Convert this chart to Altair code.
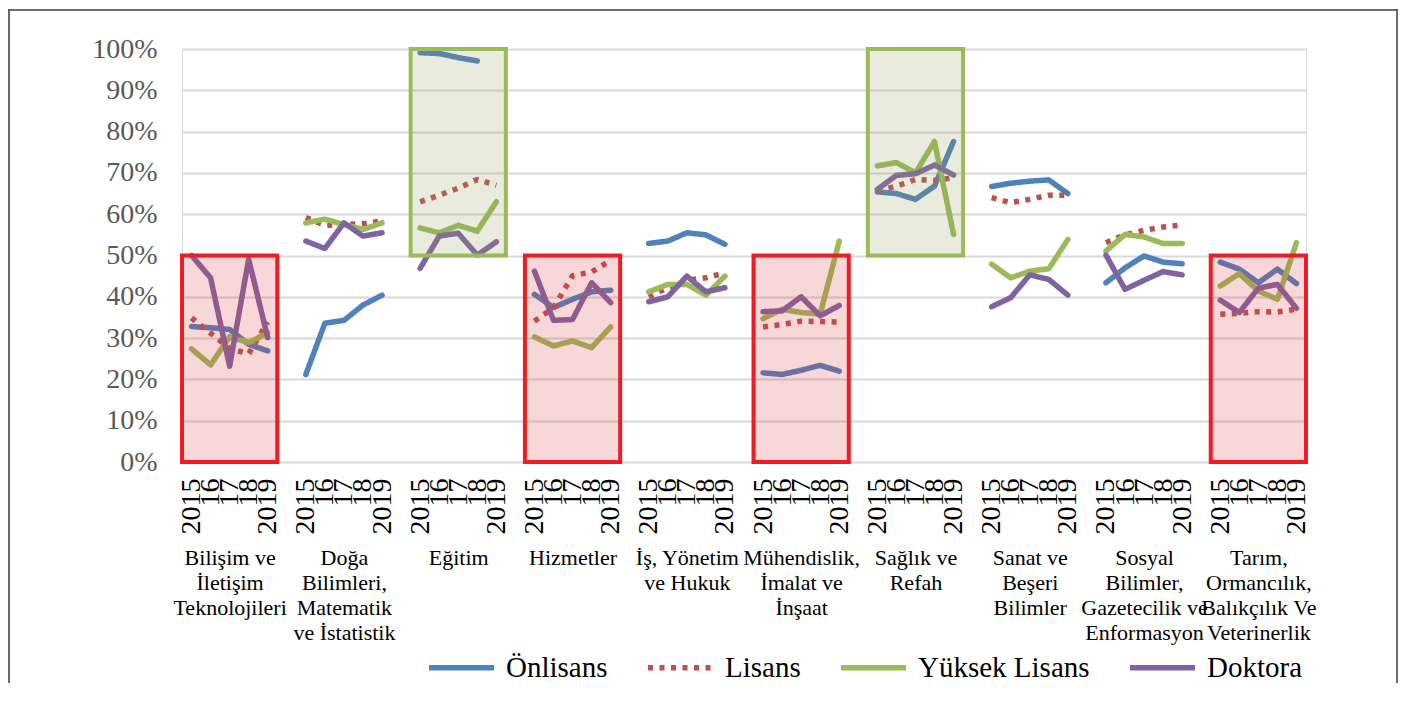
import altair as alt
import pandas as pd

# ---------------- data ----------------
group_lines = [
    ["Bilişim ve", "İletişim", "Teknolojileri"],
    ["Doğa", "Bilimleri,", "Matematik", "ve İstatistik"],
    ["Eğitim"],
    ["Hizmetler"],
    ["İş, Yönetim", "ve Hukuk"],
    ["Mühendislik,", "İmalat ve", "İnşaat"],
    ["Sağlık ve", "Refah"],
    ["Sanat ve", "Beşeri", "Bilimler"],
    ["Sosyal", "Bilimler,", "Gazetecilik ve", "Enformasyon"],
    ["Tarım,", "Ormancılık,", "Balıkçılık Ve", "Veterinerlik"],
]
years = [2015, 2016, 2017, 2018, 2019]
year_labels = ["2015", "16", "17", "18", "2019"]
series = ["Önlisans", "Lisans", "Yüksek Lisans", "Doktora"]
colors = ["#4f81bd", "#c0504d", "#9bbb59", "#8064a2"]

# percent values, 5 years per field group, groups in order above
onlisans = [
    32.8, 32.5, 32.1, 28.5, 26.9,
    21.2, 33.6, 34.3, 38.0, 40.4,
    99.1, 98.9, 97.9, 97.1, None,
    40.6, 37.4, 39.4, 41.2, 41.6,
    52.9, 53.5, 55.5, 55.0, 52.7,
    21.6, 21.2, 22.2, 23.4, 22.0,
    65.4, 65.0, 63.6, 66.8, 77.6,
    66.7, 67.5, 68.0, 68.3, 65.0,
    43.4, 47.0, 49.9, 48.4, 48.0,
    48.4, 46.7, 43.4, 46.7, 43.2,
]
lisans = [
    34.9, 31.2, 27.5, 26.2, 33.9,
    59.2, 57.3, 57.5, 57.7, 58.4,
    63.0, 64.6, 66.3, 68.4, 67.0,
    34.1, 37.3, 45.1, 46.0, 48.8,
    40.0, 42.2, 44.0, 44.6, 45.8,
    32.7, 33.3, 34.1, 34.0, 33.9,
    65.6, 66.8, 68.4, 68.2, 68.8,
    64.0, 62.8, 63.6, 64.6, 64.6,
    53.1, 55.0, 56.1, 56.9, 57.4,
    35.8, 36.0, 36.4, 36.3, 37.0,
]
yuksek_lisans = [
    27.4, 23.5, 30.3, 28.9, 31.3,
    57.9, 58.8, 57.5, 56.3, 57.9,
    56.7, 55.5, 57.3, 55.9, 63.0,
    30.3, 28.1, 29.3, 27.7, 32.7,
    41.2, 43.0, 43.0, 40.4, 45.0,
    34.7, 37.0, 36.2, 35.8, 53.5,
    71.7, 72.5, 70.0, 77.6, 55.1,
    47.9, 44.6, 46.2, 46.8, 53.9,
    51.1, 55.1, 54.5, 52.9, 52.9,
    42.6, 45.6, 41.4, 39.4, 53.1,
]
doktora = [
    50.0, 44.6, 23.2, 49.1, 30.1,
    53.5, 51.7, 57.9, 54.7, 55.5,
    46.9, 54.7, 55.4, 50.1, 53.3,
    46.2, 34.3, 34.5, 43.4, 38.6,
    38.8, 40.0, 45.0, 41.2, 42.2,
    36.4, 36.6, 40.0, 35.4, 37.9,
    66.0, 69.4, 69.8, 71.9, 69.5,
    37.6, 39.8, 45.3, 44.2, 40.4,
    50.1, 41.8, 44.0, 46.1, 45.3,
    39.2, 36.2, 42.1, 43.0, 37.2,
]
red_box_groups = [0, 3, 5, 9]
green_box_groups = [2, 6]

# ---------------- tables ----------------
n_groups = len(group_lines)
slot = len(years) + 1  # one empty category between groups
n_slots = n_groups * slot - 1

rows = []
for s_name, vals in zip(series, [onlisans, lisans, yuksek_lisans, doktora]):
    for g in range(n_groups):
        for j, yr in enumerate(years):
            v = vals[g * len(years) + j]
            rows.append({
                "series": s_name,
                "group": g,
                "year": yr,
                "pos": g * slot + j + 0.5,
                "value": None if v is None else v / 100.0,
            })
df = pd.DataFrame(rows)

red_df = pd.DataFrame({
    "x0": [g * slot for g in red_box_groups],
    "x1": [g * slot + len(years) for g in red_box_groups],
    "y0": [0.0] * len(red_box_groups),
    "y1": [0.5] * len(red_box_groups),
})
green_df = pd.DataFrame({
    "x0": [g * slot for g in green_box_groups],
    "x1": [g * slot + len(years) for g in green_box_groups],
    "y0": [0.5] * len(green_box_groups),
    "y1": [1.0] * len(green_box_groups),
})

FONT = "Liberation Serif"
x_scale = alt.Scale(domain=[0, n_slots], nice=False, zero=False)
y_scale = alt.Scale(domain=[0, 1], nice=False)

year_expr = "[" + ",".join(f"'{t}'" for t in year_labels) + "][floor(datum.value) % " + str(slot) + "]"
group_expr = ("split([" + ",".join("'" + "|".join(l) + "'" for l in group_lines)
              + "][floor(datum.value / " + str(slot) + ")], '|')")

legend = alt.Legend(
    title=None, orient="none", legendX=244, legendY=583, direction="horizontal",
    symbolType="stroke", symbolSize=4225, symbolStrokeWidth=5.5,
    labelFont=FONT, labelFontSize=29, labelColor="black", labelOffset=9, labelLimit=400,
    columnPadding=29,
)

color_enc = alt.Color("series:N", scale=alt.Scale(domain=series, range=colors), legend=legend)
dash_enc = alt.StrokeDash("series:N", scale=alt.Scale(domain=series,
                          range=[[1, 0], [5, 6.5], [1, 0], [1, 0]]), legend=legend)

x_year = alt.X("pos:Q", scale=x_scale, axis=alt.Axis(
    orient="bottom", title=None,
    values=[g * slot + j + 0.5 for g in range(n_groups) for j in range(len(years))],
    labelExpr=year_expr, labelAngle=270, labelFont=FONT, labelFontSize=28, labelColor="black",
    labelPadding=16, labelOverlap=False, labelFlush=False, labelBound=False,
    ticks=False, domain=False, grid=False))
y_val = alt.Y("value:Q", scale=y_scale, axis=alt.Axis(
    title=None, values=[i / 10 for i in range(11)], format=".0%",
    labelFont=FONT, labelFontSize=28, labelColor="#595959", labelPadding=25,
    domain=False, ticks=False, grid=True, gridColor="#d9d9d9", gridWidth=2))

base = alt.Chart(df)
line_blue = base.transform_filter(alt.datum.series == series[0]).mark_line(
    strokeWidth=5.5, strokeCap="round", strokeJoin="round").encode(
    x=x_year, y=y_val, color=color_enc, strokeDash=dash_enc, detail="group:N")
line_red = base.transform_filter(alt.datum.series == series[1]).mark_line(
    strokeWidth=5.5, strokeCap="butt", strokeJoin="round").encode(
    x=alt.X("pos:Q", scale=x_scale, axis=None), y=alt.Y("value:Q", scale=y_scale, axis=None),
    color=color_enc, strokeDash=dash_enc, detail="group:N")
line_rest = base.transform_filter(
    (alt.datum.series == series[2]) | (alt.datum.series == series[3])).mark_line(
    strokeWidth=5.5, strokeCap="round", strokeJoin="round").encode(
    x=alt.X("pos:Q", scale=x_scale, axis=None), y=alt.Y("value:Q", scale=y_scale, axis=None),
    color=color_enc, strokeDash=dash_enc, detail=alt.Detail(["series:N", "group:N"]),
    order=alt.Order("pos:Q"))

red_boxes = alt.Chart(red_df).mark_rect(fill="#d9363e", fillOpacity=0.2, stroke="#ee1c25", strokeWidth=4).encode(
    x=alt.X("x0:Q", scale=x_scale, axis=alt.Axis(
        orient="bottom", title=None, values=[g * slot + 2.5 for g in range(n_groups)],
        labelExpr=group_expr, labelFont=FONT, labelFontSize=22, labelColor="black",
        labelLineHeight=25, labelBaseline="top", labelAlign="center", labelPadding=85,
        labelOverlap=False, labelFlush=False, labelBound=False, labelLimit=400,
        ticks=False, domain=False, grid=False)),
    x2="x1:Q",
    y=alt.Y("y0:Q", scale=y_scale, axis=None),
    y2="y1:Q",
)

green_boxes = alt.Chart(green_df).mark_rect(fill="#8a9a5b", fillOpacity=0.2, stroke="#9bbb59", strokeWidth=4).encode(
    x=alt.X("x0:Q", scale=x_scale, axis=None),
    x2="x1:Q",
    y=alt.Y("y0:Q", scale=y_scale, axis=None),
    y2="y1:Q",
)

one = pd.DataFrame({"k": [0]})
frame_color = "#3a3a3a"
frame_left = alt.Chart(one).mark_rule(color=frame_color, strokeWidth=1.5).encode(
    x=alt.value(-173), y=alt.value(-40), y2=alt.value(634))
frame_top = alt.Chart(one).mark_rule(color=frame_color, strokeWidth=1.5).encode(
    x=alt.value(-173), x2=alt.value(1215), y=alt.value(-39))
frame_right = alt.Chart(one).mark_rule(color=frame_color, strokeWidth=1.5).encode(
    x=alt.value(1215), y=alt.value(-40), y2=alt.value(634))

chart = alt.layer(line_blue, line_red, line_rest, green_boxes, red_boxes,
                  frame_left, frame_top, frame_right).resolve_axis(
    x="independent", y="independent"
).properties(
    width=1124, height=413, padding=0, background="white"
).configure_view(stroke=None).configure(font=FONT)

chart.save("out.html", embed_options={"renderer": "svg", "actions": False})
